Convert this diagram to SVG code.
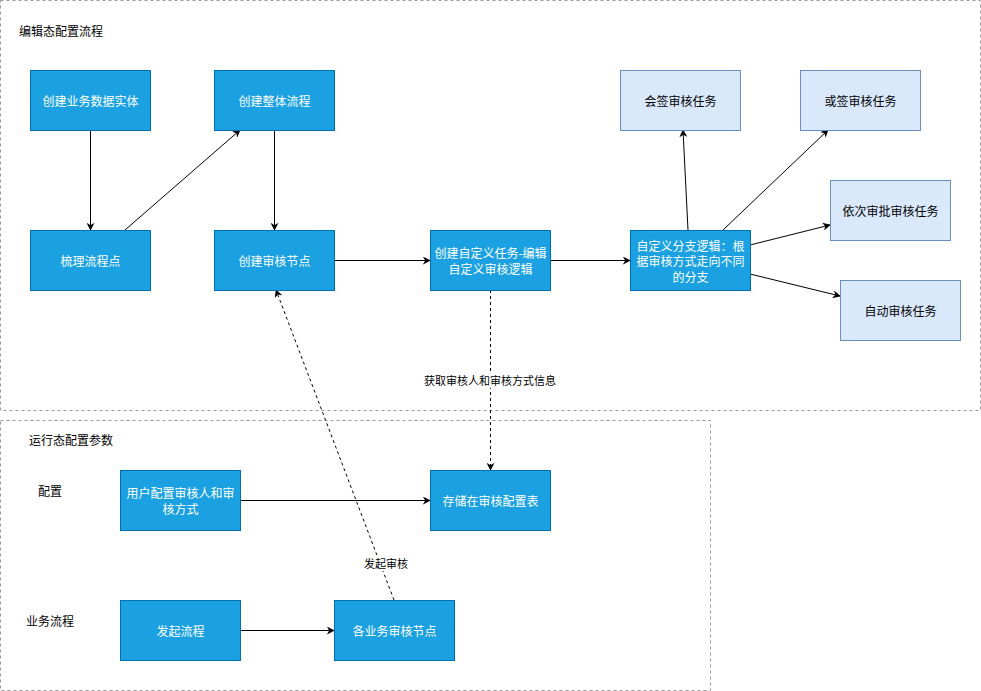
<svg xmlns="http://www.w3.org/2000/svg" width="981" height="691" viewBox="0 0 981 691">
<defs>
<style>
text{font-family:"Noto Sans CJK SC","Liberation Sans",sans-serif;font-size:12px;text-anchor:middle;dominant-baseline:central}
.blue rect{fill:#1ba1e2;stroke:#006eaf;stroke-width:1}
.blue text{fill:#ffffff}
.light rect{fill:#dae8fc;stroke:#6c8ebf;stroke-width:1}
.light text{fill:#000000}
.cont{fill:none;stroke:#999999;stroke-dasharray:3 3;stroke-width:1}
.lbl{fill:#000000;text-anchor:start}
.edge{stroke:#000000;stroke-width:1;fill:none;marker-end:url(#arr)}
.dash{stroke-dasharray:3 3}
.elbl{fill:#000000;font-size:11px}
</style>
<marker id="arr" viewBox="0 0 10 10" refX="9" refY="5" markerWidth="8" markerHeight="8" orient="auto" markerUnits="userSpaceOnUse">
<path d="M0,0 L10,5 L0,10 L3,5 Z" fill="#000000"/>
</marker>
</defs>
<rect width="981" height="691" fill="#ffffff"/>
<g id="containers">
<rect class="cont" x="0.5" y="0.5" width="980" height="410"/>
<rect class="cont" x="0.5" y="420.5" width="710" height="270"/>
<text class="lbl" x="19" y="30">编辑态配置流程</text>
<text class="lbl" x="29" y="439">运行态配置参数</text>
<text class="lbl" x="38" y="490">配置</text>
<text class="lbl" x="26" y="620">业务流程</text>
</g>
<g id="connectors">
<path class="edge" d="M90.5,130 L90.5,230"/>
<path class="edge" d="M125,230 L240,130" stroke-width="0.8"/>
<path class="edge" d="M274.5,130 L274.5,230"/>
<path class="edge" d="M334,260.5 L430,260.5"/>
<path class="edge" d="M550,260.5 L630,260.5"/>
<path class="edge" d="M688,230 L683,130"/>
<path class="edge" d="M723,230 L828,130"/>
<path class="edge" d="M750,245 L830,225"/>
<path class="edge" d="M750,274 L840,296"/>
<path class="edge dash" d="M490.5,290 L490.5,470"/>
<path class="edge" d="M240,500.5 L430,500.5"/>
<path class="edge" d="M240,630.5 L334,630.5"/>
<path class="edge dash" d="M394,600 L276,290"/>
<rect x="420" y="373" width="140" height="15" fill="#ffffff"/>
<text class="elbl" x="490" y="380">获取审核人和审核方式信息</text>
<rect x="362" y="556" width="50" height="15" fill="#ffffff"/>
<text class="elbl" x="386" y="563">发起审核</text>
</g>
<g id="n1" class="blue"><rect x="30.5" y="70.5" width="120" height="60"/><text x="90.5" y="100.5">创建业务数据实体</text></g>
<g id="n2" class="blue"><rect x="214.5" y="70.5" width="120" height="60"/><text x="274.5" y="100.5">创建整体流程</text></g>
<g id="n3" class="blue"><rect x="30.5" y="230.5" width="120" height="60"/><text x="90.5" y="260.5">梳理流程点</text></g>
<g id="n4" class="blue"><rect x="214.5" y="230.5" width="120" height="60"/><text x="274.5" y="260.5">创建审核节点</text></g>
<g id="n5" class="blue"><rect x="430.5" y="230.5" width="120" height="60"/><text x="490.5" y="252.5">创建自定义任务-编辑</text><text x="490.5" y="268.5">自定义审核逻辑</text></g>
<g id="n6" class="blue"><rect x="630.5" y="230.5" width="120" height="60"/><text x="690.5" y="245">自定义分支逻辑：根</text><text x="690.5" y="260.5">据审核方式走向不同</text><text x="690.5" y="276">的分支</text></g>
<g id="n7" class="light"><rect x="620.5" y="70.5" width="120" height="60"/><text x="680.5" y="100.5">会签审核任务</text></g>
<g id="n8" class="light"><rect x="800.5" y="70.5" width="120" height="60"/><text x="860.5" y="100.5">或签审核任务</text></g>
<g id="n9" class="light"><rect x="830.5" y="180.5" width="120" height="60"/><text x="890.5" y="210.5">依次审批审核任务</text></g>
<g id="n10" class="light"><rect x="840.5" y="280.5" width="120" height="60"/><text x="900.5" y="310.5">自动审核任务</text></g>
<g id="n11" class="blue"><rect x="120.5" y="470.5" width="120" height="60"/><text x="180.5" y="492.5">用户配置审核人和审</text><text x="180.5" y="508.5">核方式</text></g>
<g id="n12" class="blue"><rect x="430.5" y="470.5" width="120" height="60"/><text x="490.5" y="500.5">存储在审核配置表</text></g>
<g id="n13" class="blue"><rect x="120.5" y="600.5" width="120" height="60"/><text x="180.5" y="630.5">发起流程</text></g>
<g id="n14" class="blue"><rect x="334.5" y="600.5" width="120" height="60"/><text x="394.5" y="630.5">各业务审核节点</text></g>
</svg>
